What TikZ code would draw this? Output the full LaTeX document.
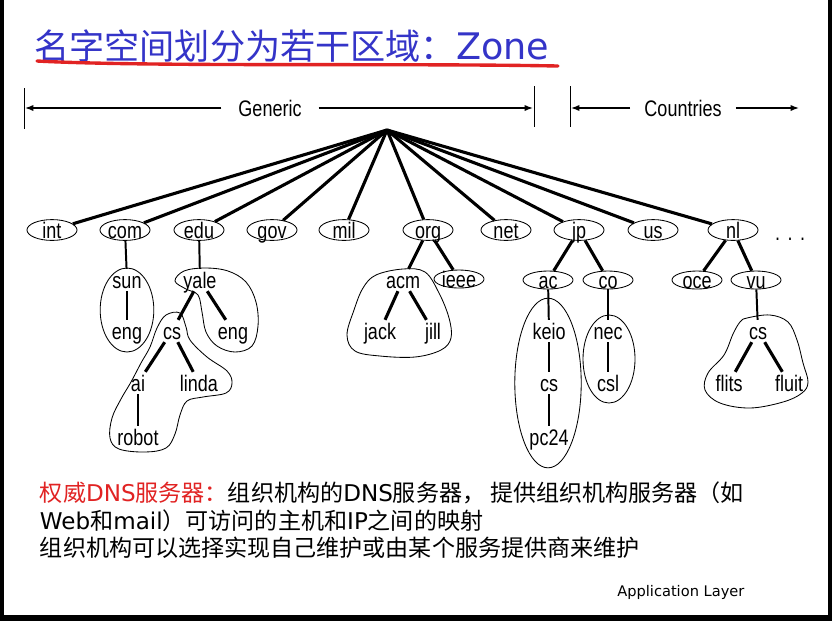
\documentclass[tikz,border=0pt]{standalone}
\usepackage{fontspec}
\setmainfont{Liberation Sans}
\newfontfamily\cjkfont{Noto Sans CJK SC}
\newfontfamily\latfont{DejaVu Sans}
\newfontfamily\treefont[FakeStretch=0.8]{Liberation Sans}
\usetikzlibrary{shapes.geometric,arrows.meta,positioning}
\definecolor{titleblue}{RGB}{52,52,200}
\definecolor{inkred}{RGB}{225,35,35}

\begin{document}
\begin{tikzpicture}[x=0.025cm, y=-0.025cm,
  tld/.style={ellipse, draw, line width=0.6pt, minimum width=1.25cm,
              minimum height=0.52cm, inner xsep=0pt, inner ysep=-5pt,
              text height=12.5pt, text depth=1pt,
              font=\treefont\fontsize{16}{16}\selectfont},
  sld/.style={tld, minimum height=0.45cm},
  host/.style={inner sep=1pt, text height=12.5pt, text depth=1pt,
               font=\treefont\fontsize{16}{16}\selectfont},
  zone/.style={draw, line width=0.6pt},
  tie/.style={draw, line width=2.2pt},
  down/.style={draw, line width=1.4pt},
  bar/.style={draw, line width=0.6pt},
  span/.style={draw, line width=1pt, -{Latex[length=6pt,width=4.5pt]}},
  note/.style={anchor=west, font=\cjkfont\fontsize{16.4}{20}\selectfont},
]
  % frame
  \fill[black] (0,0) rectangle (832,621);
  \fill[white] (4,0) rectangle (828,615);

  % Title
  \node[anchor=west, inner sep=0pt, text=titleblue,
        font=\cjkfont\fontsize{25}{25}\selectfont] (title) at (34,46)
       {名字空间划分为若干区域：{\latfont\fontsize{26}{26}\selectfont Zone}};
  \draw[inkred, line width=2.4pt, line cap=round]
       (37,61) .. controls (150,67) and (400,63) .. (558,66);

  % Generic / Countries
  \draw[bar] (24,88) -- (24,129);
  \draw[bar] (534,86) -- (534,127);
  \draw[bar] (570,86) -- (570,127);
  \node[host, fill=white, inner xsep=12pt] (gen) at (270,108) {Generic};
  \node[host, fill=white, inner xsep=10pt] (cty) at (683,108) {Countries};
  \coordinate (gl) at (25,108);
  \coordinate (gr) at (533,108);
  \coordinate (cl) at (571,108);
  \coordinate (cr) at (799,108);
  \draw[span] (gen) -- (gl);
  \draw[span] (gen) -- (gr);
  \draw[span] (cty) -- (cl);
  \draw[span] (cty) -- (cr);

  % Root and top level domains
  \coordinate (root) at (387,130);
  \node[tld] (int) at (52,230)  {int};
  \node[tld] (com) at (125,230) {com};
  \node[tld] (edu) at (199,230) {edu};
  \node[tld] (gov) at (272,230) {gov};
  \node[tld] (mil) at (344,230) {mil};
  \node[tld] (org) at (428,230) {org};
  \node[tld] (net) at (506,230) {net};
  \node[tld] (jp)  at (579,230) {jp};
  \node[tld] (us)  at (653,230) {us};
  \node[tld] (nl)  at (733,230) {nl};
  \node[host] (more) at (790,232) {.\,\,.\,\,.};
  \foreach \t in {int,com,edu,gov,mil,org,net,jp,us,nl}
    \draw[tie] (root) -- (\t);

  % com
  \node[host] (sun) at (127,280) {sun};
  \node[host] (sunEng) at (127,331) {eng};
  \draw[down] (com) -- (sun);
  \draw[down] (sun) -- (sunEng);
  \draw[zone] (127,310) ellipse [x radius=0.67cm, y radius=1.05cm];

  % edu
  \node[host] (yale) at (200,280) {yale};
  \node[host] (yaleEng) at (233,331) {eng};
  \node[host] (cs) at (172,331) {cs};
  \node[host] (ai) at (138,383) {ai};
  \node[host] (linda) at (199,383) {linda};
  \node[host] (robot) at (138,437) {robot};
  \draw[down] (edu) -- (yale);
  \draw[tie] (yale) -- (cs);
  \draw[tie] (yale) -- (yaleEng);
  \draw[tie] (cs) -- (ai);
  \draw[tie] (cs) -- (linda);
  \draw[down] (ai) -- (robot);
  \draw[zone] plot[smooth cycle, tension=0.6] coordinates {
    (175,281) (184,271) (205,268) (228,271) (246,282) (256,302) (258,326)
    (252,346) (235,352) (217,346) (206,332) (202,312) (198,295) (186,289)};
  \draw[zone] plot[smooth cycle, tension=0.6] coordinates {
    (157,328) (166,315) (180,313) (186,327) (190,340) (207,357) (227,371)
    (232,383) (226,393) (203,397) (187,401) (180,415) (175,434) (166,448)
    (145,452) (119,449) (110,438) (112,418) (121,399) (131,382) (141,363)
    (150,347)};

  % org
  \node[host] (acm) at (403,280) {acm};
  \node[sld] (ieee) at (459,279) {ieee};
  \node[host] (jack) at (380,331) {jack};
  \node[host] (jill) at (433,331) {jill};
  \draw[tie] (org) -- (acm);
  \draw[tie] (org) -- (ieee);
  \draw[tie] (acm) -- (jack);
  \draw[tie] (acm) -- (jill);
  \draw[zone] plot[smooth cycle, tension=0.6] coordinates {
    (354,310) (363,288) (376,275) (403,269) (425,272) (439,293) (449,318)
    (451,338) (441,350) (415,357) (380,356) (355,351) (347,335)};

  % jp
  \node[sld] (ac) at (548,280) {ac};
  \node[sld] (co) at (608,280) {co};
  \node[host] (keio) at (549,331) {keio};
  \node[host] (jpCs) at (549,383) {cs};
  \node[host] (pc) at (549,437) {pc24};
  \node[host] (nec) at (608,331) {nec};
  \node[host] (csl) at (608,383) {csl};
  \draw[tie] (jp) -- (ac);
  \draw[tie] (jp) -- (co);
  \draw[down] (ac) -- (keio);
  \draw[down] (keio) -- (jpCs);
  \draw[down] (jpCs) -- (pc);
  \draw[down] (co) -- (nec);
  \draw[down] (nec) -- (csl);
  \draw[zone] (548,383) ellipse [x radius=0.83cm, y radius=2.12cm];
  \draw[zone] (609,359) ellipse [x radius=0.65cm, y radius=1.1cm];

  % nl
  \node[sld] (oce) at (697,280) {oce};
  \node[sld] (vu) at (756,280) {vu};
  \node[host] (vuCs) at (758,331) {cs};
  \node[host] (flits) at (729,383) {flits};
  \node[host] (fluit) at (789,383) {fluit};
  \draw[tie] (nl) -- (oce);
  \draw[tie] (nl) -- (vu);
  \draw[down] (vu) -- (vuCs);
  \draw[tie] (vuCs) -- (flits);
  \draw[tie] (vuCs) -- (fluit);
  \draw[zone] plot[smooth cycle, tension=0.6] coordinates {
    (747,318) (770,315) (788,322) (797,340) (803,363) (808,382) (802,393)
    (783,402) (750,408) (720,403) (705,390) (708,373) (724,355) (733,334)
    (740,322)};

  % Notes
  \node[note] (n1) at (35,493)
       {\textcolor{inkred}{权威{\latfont DNS}服务器：}组织机构的{\latfont DNS}服务器，
        提供组织机构服务器（如};
  \node[note] (n2) at (35,521)
       {{\latfont Web}和{\latfont mail}）可访问的主机和{\latfont IP}之间的映射};
  \node[note] (n3) at (35,548)
       {组织机构可以选择实现自己维护或由某个服务提供商来维护};
  \node[anchor=west, inner sep=0pt, font=\latfont\fontsize{10.4}{11}\selectfont]
       (layer) at (617,592) {Application Layer};
\end{tikzpicture}
\end{document}
